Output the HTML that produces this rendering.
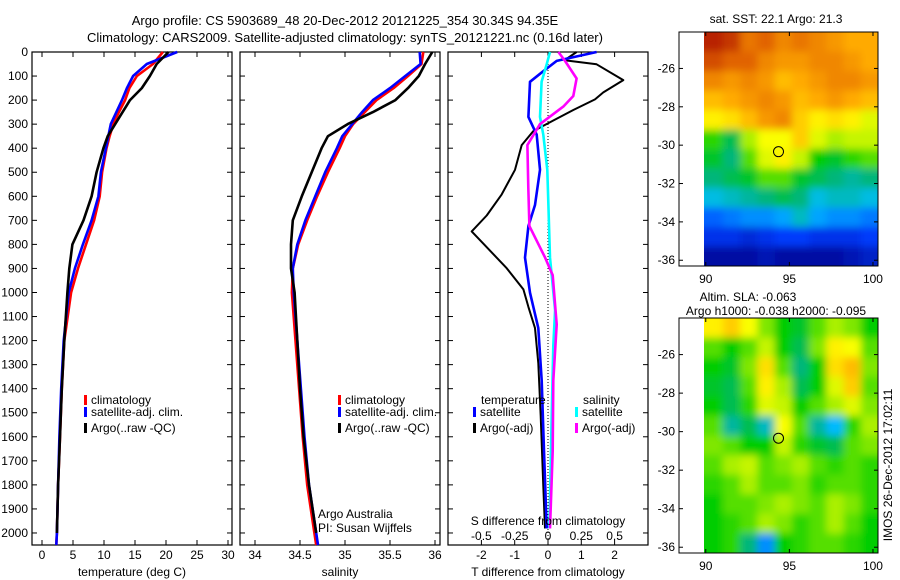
<!DOCTYPE html>
<html><head><meta charset="utf-8">
<style>
html,body{margin:0;padding:0;background:#fff;}
svg{display:block;font-family:"Liberation Sans",sans-serif;}
text{font-size:12px;fill:#000;}
</style></head>
<body>
<svg id="fig" width="900" height="580" viewBox="0 0 900 580" xmlns="http://www.w3.org/2000/svg">
<defs>
<filter id="blur" x="-5%" y="-5%" width="110%" height="110%"><feGaussianBlur stdDeviation="4"/></filter>
<clipPath id="clip1"><rect x="704" y="32" width="174" height="234"/></clipPath>
<clipPath id="clip2"><rect x="704" y="318" width="174" height="235"/></clipPath>
</defs>
<rect width="900" height="580" fill="#fff"/>
<text x="345" y="25" text-anchor="middle" style="font-size:13px">Argo profile: CS 5903689_48 20-Dec-2012 20121225_354 30.34S 94.35E</text>
<text x="345" y="42" text-anchor="middle" style="font-size:13px">Climatology: CARS2009. Satellite-adjusted climatology: synTS_20121221.nc (0.16d later)</text>
<g id="p1"></g>
<g id="p2"></g>
<g id="p3"></g>
<g id="m1"></g>
<g id="m2"></g>
<text transform="translate(892,465) rotate(-90)" text-anchor="middle">IMOS 26-Dec-2012 17:02:11</text>
</svg>
<script>
// ---- profile data ----
const depths=[0,50,100,150,200,250,300,350,400,500,600,700,800,900,1000,1200,1400,1600,1800,2000,2050];
const climT=[19.5,17.9,15.3,14.1,13.4,12.4,11.5,10.9,10.4,9.7,9.3,8.4,7.1,5.8,4.7,3.6,3.2,2.9,2.6,2.4,2.3];
const satT=[21.8,16.9,14.7,13.7,12.9,12.0,11.1,10.7,10.3,9.5,9.1,8.0,6.6,5.3,4.3,3.5,3.1,2.8,2.6,2.4,2.3];
const argoT=[20.4,18.5,17.4,16.1,14.2,13.0,11.8,10.6,9.9,8.8,8.0,6.7,4.9,4.4,4.1,3.6,3.2,2.9,2.6,2.4,2.4];
const climS=[35.87,35.85,35.70,35.54,35.35,35.22,35.09,35.00,34.94,34.81,34.69,34.58,34.48,34.42,34.41,34.45,34.49,34.53,34.58,34.66,34.68];
const satS=[35.83,35.84,35.67,35.50,35.31,35.19,35.08,34.97,34.91,34.78,34.67,34.56,34.47,34.42,34.43,34.47,34.51,34.55,34.60,34.68,34.70];
const argoS=[35.97,35.89,35.82,35.70,35.56,35.31,35.03,34.81,34.74,34.63,34.52,34.42,34.40,34.40,34.44,34.47,34.50,34.54,34.60,34.68,34.68];
// difference panel data
const dArgoT=[0,34,51,117,168,197,241,285,329,387,490,592,680,746,797,899,987,1060,1148,1294,1513,1805,1981];
const argoTdiff=[0.86,0.5,1.46,2.26,1.66,1.41,0.76,0.16,-0.44,-0.79,-0.99,-1.39,-1.84,-2.29,-1.94,-1.24,-0.74,-0.59,-0.39,-0.29,-0.22,-0.14,-0.09];
const dSatT=[0,37,80,124,270,344,490,636,724,855,1001,1148,1367,1659,1981];
const satTdiff=[1.46,0.26,-0.14,-0.54,-0.59,-0.34,-0.24,-0.39,-0.59,-0.69,-0.54,-0.29,-0.19,-0.12,-0.04];
const dSatS=[0,51,124,270,344,490,636,855,1074,1221,1513,1981];
const satSdiff=[0.015,-0.01,-0.048,-0.06,-0.035,-0.005,0.003,0.015,0.053,0.04,0.028,0.01];
const dArgoS=[0,37,110,183,227,300,387,563,724,855,928,1133,1367,1659,1981];
const argoSdiff=[0.078,0.128,0.215,0.19,0.115,-0.06,-0.155,-0.148,-0.14,-0.022,0.035,0.065,0.04,0.035,0.015];
const depthTicks=[0,100,200,300,400,500,600,700,800,900,1000,1100,1200,1300,1400,1500,1600,1700,1800,1900,2000];
const tTicks=[0,5,10,15,20,25,30];
const sTicks=[34,34.5,35,35.5,36];
const tdTicks=[-2,-1,0,1,2];
const sdTicks=[-0.5,-0.25,0,0.25,0.5];
const sdTickLabels=["-0.5","-0.25","0","0.25","0.5"];
// ---- map data ----
const sstGrid=[
[23.8,23.6,23.0,23.2,22.8,23.0,22.8,22.6,22.4,22.4],
[23.4,23.2,23.2,22.8,22.6,22.6,22.8,22.8,22.6,22.4],
[22.8,22.6,22.8,22.6,22.2,22.4,22.6,22.8,22.8,22.6],
[22.2,22.4,22.6,22.8,22.6,22.2,22.4,22.6,22.4,22.2],
[21.6,21.8,22.2,22.6,22.8,22.0,21.6,21.8,21.6,21.2],
[20.2,19.6,20.8,21.4,21.4,22.0,21.2,20.8,21.0,21.0],
[19.8,19.4,20.4,21.2,21.6,21.0,20.0,19.8,20.2,20.4],
[19.4,19.6,19.8,20.4,20.4,19.8,19.6,19.4,19.2,19.4],
[18.8,19.0,19.2,19.4,19.6,19.4,18.8,19.0,19.0,18.8],
[17.8,18.0,18.2,18.2,18.4,19.0,18.4,18.2,18.2,18.0],
[17.2,17.2,17.0,17.2,17.4,17.4,17.2,17.2,17.2,17.4],
[16.4,16.4,16.4,16.6,16.4,16.4,16.4,16.4,16.6,16.8]];
const slaGrid=[
[8,10,7,3,0,-1,2,4,3,0],
[2,0,2,5,0,-2,3,8,7,2],
[0,-1,3,9,2,-3,0,9,11,3],
[-1,-2,2,8,4,-2,0,6,10,2],
[0,-2,1,6,5,0,2,4,6,3],
[2,-4,-2,-5,7,2,-4,-7,1,4],
[3,2,0,0,5,1,-1,-2,2,3],
[2,4,5,2,3,4,2,1,2,1],
[1,2,4,2,2,3,1,2,2,1],
[0,2,2,3,4,3,2,4,3,1],
[0,1,2,4,3,1,2,4,2,0],
[0,1,-3,-9,0,1,2,2,1,0]];
const latTicks=[-26,-28,-30,-32,-34,-36];
const lonTicks=[90,95,100];
const argoLon=94.35, argoLat=-30.34;

const NS='http://www.w3.org/2000/svg';
function mk(parent,tag,attrs,txt){const e=document.createElementNS(NS,tag);for(const k in attrs)e.setAttribute(k,attrs[k]);if(txt!==undefined)e.textContent=txt;parent.appendChild(e);return e;}

const Y0=52,Y1=545;
const yD=d=>Y0+(d/2050)*(Y1-Y0);

function panel(g,x0,x1,xs,xt,xlabels,xtitle,leftLabels,name){
  const f=mk(g,'rect',{x:x0,y:Y0,width:x1-x0,height:Y1-Y0,fill:'none',stroke:'#000','stroke-width':1.2});
  
  
  depthTicks.forEach(d=>{
    const y=yD(d);
    mk(g,'line',{x1:x0,x2:x0+5,y1:y,y2:y,stroke:'#000'});
    mk(g,'line',{x1:x1-5,x2:x1,y1:y,y2:y,stroke:'#000'});
    if(leftLabels){const t=mk(g,'text',{x:x0-4,y:y+4,'text-anchor':'end'},String(d));
      
      }
  });
  xt.forEach((v,i)=>{
    const x=xs(v);
    mk(g,'line',{x1:x,x2:x,y1:Y0,y2:Y0+5,stroke:'#000'});
    mk(g,'line',{x1:x,x2:x,y1:Y1-5,y2:Y1,stroke:'#000'});
    if(xlabels){const t=mk(g,'text',{x:x,y:559,'text-anchor':'middle'},xlabels[i]);
      
      }
  });
  const tt=mk(g,'text',{x:(x0+x1)/2,y:576,'text-anchor':'middle'},xtitle);
  
  
}
function line(g,ds,vs,xs,color,w,name){
  const pts=ds.map((d,i)=>xs(vs[i]).toFixed(1)+','+yD(d).toFixed(1)).join(' ');
  const p=mk(g,'polyline',{points:pts,fill:'none',stroke:color,'stroke-width':w,'stroke-linejoin':'round'});
  
  
}
function legend(g,x,y,color,label){
  const r=mk(g,'rect',{x:x-2,y:y-9,width:3,height:10,fill:color});
  
  
  const t=mk(g,'text',{x:x+5,y:y},label);
  
  
}

// Panel 1
const p1=document.getElementById('p1');
const xT=v=>42+6.2*v;
panel(p1,32,232,xT,tTicks,tTicks.map(String),'temperature (deg C)',true,'temperature');
line(p1,depths,climT,xT,'#ff0000',2.6,'climatology-temperature-line');
line(p1,depths,satT,xT,'#0000ff',2.6,'satellite-temperature-line');
line(p1,depths.slice(0,20),argoT.slice(0,20),xT,'#000',2.6,'argo-temperature-line');
legend(p1,86,404,'#ff0000','climatology');
legend(p1,86,416,'#0000ff','satellite-adj. clim.');
legend(p1,86,432,'#000','Argo(..raw -QC)');

// Panel 2
const p2=document.getElementById('p2');
const xS=v=>255+90*(v-34);
panel(p2,240,440,xS,sTicks,sTicks.map(String),'salinity',false,'salinity');
line(p2,depths,climS,xS,'#ff0000',2.6,'climatology-salinity-line');
line(p2,depths,satS,xS,'#0000ff',2.6,'satellite-salinity-line');
line(p2,depths.slice(0,20),argoS.slice(0,20),xS,'#000',2.6,'argo-salinity-line');
legend(p2,340,404,'#ff0000','climatology');
legend(p2,340,416,'#0000ff','satellite-adj. clim.');
legend(p2,340,432,'#000','Argo(..raw -QC)');
let t;
t=mk(p2,'text',{x:318,y:518},'Argo Australia');


t=mk(p2,'text',{x:318,y:532},'PI: Susan Wijffels');



// Panel 3
const p3=document.getElementById('p3');
const xTd=v=>548+33.3*v;
const xSd=v=>548+133.2*v;
panel(p3,448,648,xTd,tdTicks,tdTicks.map(String),'T difference from climatology',false,'difference');
mk(p3,'line',{x1:548,x2:548,y1:Y0,y2:Y1,stroke:'#000','stroke-dasharray':'1,2'});
line(p3,dArgoT,argoTdiff,xTd,'#000',2,'argo-temperature-difference-line');
line(p3,dSatT,satTdiff,xTd,'#0000ff',2.6,'satellite-temperature-difference-line');
line(p3,dSatS,satSdiff,xSd,'#00ffff',2.6,'satellite-salinity-difference-line');
line(p3,dArgoS,argoSdiff,xSd,'#ff00ff',2.6,'argo-salinity-difference-line');
sdTicks.forEach((v,i)=>{const tt=mk(p3,'text',{x:xSd(v),y:540,'text-anchor':'middle'},sdTickLabels[i]);
  
  });
t=mk(p3,'text',{x:548,y:525,'text-anchor':'middle'},'S difference from climatology');


t=mk(p3,'text',{x:481,y:404},'temperature');


t=mk(p3,'text',{x:583,y:404},'salinity');


legend(p3,475,416,'#0000ff','satellite');
legend(p3,475,432,'#000','Argo(-adj)');
legend(p3,577,416,'#00ffff','satellite');
legend(p3,577,432,'#ff00ff','Argo(-adj)');

// Maps
const stops=[[0,[0,0,127]],[0.18,[0,60,255]],[0.33,[0,190,255]],[0.42,[0,180,130]],[0.5,[0,205,0]],[0.6,[170,240,0]],[0.68,[255,255,0]],[0.8,[255,170,0]],[0.9,[225,100,0]],[1,[170,10,0]]];
function cmap(x){x=Math.max(0,Math.min(1,x));for(let i=1;i<stops.length;i++){if(x<=stops[i][0]){const a=stops[i-1],b=stops[i],f=(x-a[0])/(b[0]-a[0]);const c=a[1].map((v,k)=>Math.round(v+(b[1][k]-v)*f));return 'rgb('+c.join(',')+')';}}return 'rgb(170,10,0)';}
function map(g,ax0,ax1,ay0,ay1,lonMin,lonMax,latTop,latBot,grid,vmin,vmax,name,clipId){
  const xs=l=>ax0+(l-lonMin)/(lonMax-lonMin)*(ax1-ax0);
  const ys=l=>ay0+(latTop-l)/(latTop-latBot)*(ay1-ay0);
  const gx0=xs(90),gx1=ax1;
  const nr=grid.length,nc=grid[0].length;
  const cw=(gx1-gx0)/nc,ch=(ay1-ay0)/nr;
  const cg=mk(g,'g',{'clip-path':'url(#'+clipId+')'});
  const bg=mk(cg,'g',{filter:'url(#blur)'});
  const pad=12;
  grid.forEach((row,r)=>row.forEach((v,c)=>{
    let x=gx0+c*cw,y=ay0+r*ch,w=cw+0.5,h=ch+0.5;
    if(c===0){x-=pad;w+=pad;} if(c===nc-1){w+=pad;}
    if(r===0){y-=pad;h+=pad;} if(r===nr-1){h+=pad;}
    const cell=mk(bg,'rect',{x:x.toFixed(2),y:y.toFixed(2),width:w.toFixed(2),height:h.toFixed(2),fill:cmap((v-vmin)/(vmax-vmin))});
    
    
  }));
  const fr=mk(g,'rect',{x:ax0,y:ay0,width:ax1-ax0,height:ay1-ay0,fill:'none',stroke:'#000'});
  
  
  latTicks.forEach(l=>{const y=ys(l);
    mk(g,'line',{x1:ax0,x2:ax0+4,y1:y,y2:y,stroke:'#000'});
    mk(g,'line',{x1:ax1-4,x2:ax1,y1:y,y2:y,stroke:'#000'});
    const tt=mk(g,'text',{x:ax0-4,y:y+4,'text-anchor':'end'},String(l));
    
    });
  lonTicks.forEach(l=>{const x=xs(l);
    mk(g,'line',{x1:x,x2:x,y1:ay0,y2:ay0+4,stroke:'#000'});
    mk(g,'line',{x1:x,x2:x,y1:ay1-4,y2:ay1,stroke:'#000'});
    const tt=mk(g,'text',{x:x,y:ay1+17,'text-anchor':'middle'},String(l));
    
    });
  const dot=mk(g,'circle',{cx:xs(argoLon),cy:ys(argoLat),r:5,fill:'none',stroke:'#000','stroke-width':1});
  
  
}
const m1=document.getElementById('m1');
map(m1,679,878,32,266,88.4,100.3,-24.1,-36.3,sstGrid,16,24,'sst-map','clip1');
t=mk(m1,'text',{x:776,y:23,'text-anchor':'middle'},'sat. SST: 22.1 Argo: 21.3');


const m2=document.getElementById('m2');
map(m2,679,878,318,553,88.4,100.3,-24.1,-36.3,slaGrid,-20,20,'sla-map','clip2');
t=mk(m2,'text',{x:748,y:301,'text-anchor':'middle'},'Altim. SLA: -0.063');


t=mk(m2,'text',{x:776,y:315,'text-anchor':'middle'},'Argo h1000: -0.038 h2000: -0.095');


</script>
</body></html>
